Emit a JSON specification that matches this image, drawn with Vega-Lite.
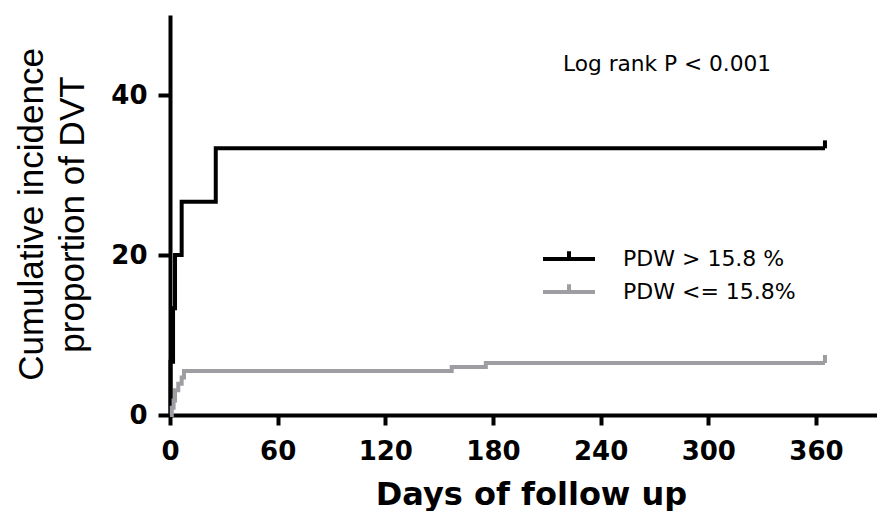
{
  "$schema": "https://vega.github.io/schema/vega-lite/v6.json",
  "width": 707,
  "height": 400,
  "autosize": {"type": "none"},
  "padding": {"left": 170, "top": 15, "right": 0, "bottom": 96},
  "background": "white",
  "config": {
    "view": {"stroke": null},
    "axis": {
      "grid": false,
      "domainColor": "black",
      "domainWidth": 4,
      "tickColor": "black",
      "tickWidth": 4,
      "labelFont": "DejaVu Sans",
      "labelFontWeight": "bold",
      "labelFontSize": 26,
      "labelColor": "black",
      "titleColor": "black"
    }
  },
  "title": {
    "text": "Log rank P < 0.001",
    "anchor": "start",
    "frame": "group",
    "orient": "top",
    "offset": 0,
    "baseline": "alphabetic",
    "dx": 393,
    "dy": 78,
    "font": "DejaVu Sans",
    "fontSize": 21.7,
    "fontWeight": "normal",
    "color": "black"
  },
  "datasets": {
    "km": [
      {"group": "PDW > 15.8 %", "day": 0, "pct": 0},
      {"group": "PDW > 15.8 %", "day": 0.3, "pct": 6.67},
      {"group": "PDW > 15.8 %", "day": 1.7, "pct": 13.33},
      {"group": "PDW > 15.8 %", "day": 2.8, "pct": 20},
      {"group": "PDW > 15.8 %", "day": 6.5, "pct": 26.67},
      {"group": "PDW > 15.8 %", "day": 25.5, "pct": 33.33},
      {"group": "PDW > 15.8 %", "day": 365, "pct": 33.33},
      {"group": "PDW <= 15.8%", "day": 0, "pct": 0},
      {"group": "PDW <= 15.8%", "day": 1, "pct": 0.9},
      {"group": "PDW <= 15.8%", "day": 2, "pct": 1.8},
      {"group": "PDW <= 15.8%", "day": 2.8, "pct": 3.1},
      {"group": "PDW <= 15.8%", "day": 4.6, "pct": 3.9},
      {"group": "PDW <= 15.8%", "day": 6.5, "pct": 4.7},
      {"group": "PDW <= 15.8%", "day": 7.8, "pct": 5.5},
      {"group": "PDW <= 15.8%", "day": 157, "pct": 6.0},
      {"group": "PDW <= 15.8%", "day": 176, "pct": 6.5},
      {"group": "PDW <= 15.8%", "day": 365, "pct": 6.5}
    ],
    "censor": [
      {"group": "PDW > 15.8 %", "day": 365, "pct": 33.33},
      {"group": "PDW <= 15.8%", "day": 365, "pct": 6.5}
    ]
  },
  "resolve": {"legend": {"color": "independent"}},
  "layer": [
    {
      "data": {"name": "km"},
      "mark": {"type": "line", "interpolate": "step-after", "strokeWidth": 4},
      "encoding": {
        "x": {
          "field": "day",
          "type": "quantitative",
          "scale": {"domain": [0, 394], "nice": false, "zero": false},
          "axis": {
            "values": [0, 60, 120, 180, 240, 300, 360],
            "tickSize": 10,
            "labelPadding": 13,
            "labelFlush": false,
            "labelOverlap": false,
            "title": "Days of follow up",
            "titleFont": "DejaVu Sans",
            "titleFontSize": 32,
            "titleFontWeight": "bold",
            "titleBaseline": "alphabetic",
            "titleX": 361,
            "titleY": 89
          }
        },
        "y": {
          "field": "pct",
          "type": "quantitative",
          "scale": {"domain": [0, 50], "nice": false},
          "axis": {
            "values": [0, 20, 40],
            "tickSize": 12,
            "labelPadding": 11,
            "title": ["Cumulative incidence", "proportion of DVT"],
            "titleFont": "Liberation Sans",
            "titleFontSize": 35,
            "titleFontWeight": "normal",
            "titleAngle": -90,
            "titleAlign": "center",
            "titleBaseline": "alphabetic",
            "titleLineHeight": 41,
            "titleX": -128,
            "titleY": 199
          }
        },
        "color": {
          "field": "group",
          "type": "nominal",
          "scale": {"domain": ["PDW > 15.8 %", "PDW <= 15.8%"], "range": ["black", "#9e9ea2"]},
          "legend": {
            "orient": "none",
            "legendX": 384,
            "legendY": 229,
            "direction": "vertical",
            "title": null,
            "padding": 0,
            "symbolType": "M-2,0H2M0,0V-0.6",
            "symbolSize": 676,
            "symbolStrokeWidth": 4,
            "labelFont": "DejaVu Sans",
            "labelFontSize": 22,
            "labelColor": "black",
            "labelLimit": 0,
            "labelOffset": 39,
            "rowPadding": 6
          }
        }
      }
    },
    {
      "data": {"name": "censor"},
      "mark": {"type": "point", "shape": "M0,0V-1", "size": 256, "filled": false, "strokeWidth": 4, "opacity": 1},
      "encoding": {
        "x": {"field": "day", "type": "quantitative"},
        "y": {"field": "pct", "type": "quantitative"},
        "color": {"field": "group", "type": "nominal", "legend": null}
      }
    }
  ]
}
